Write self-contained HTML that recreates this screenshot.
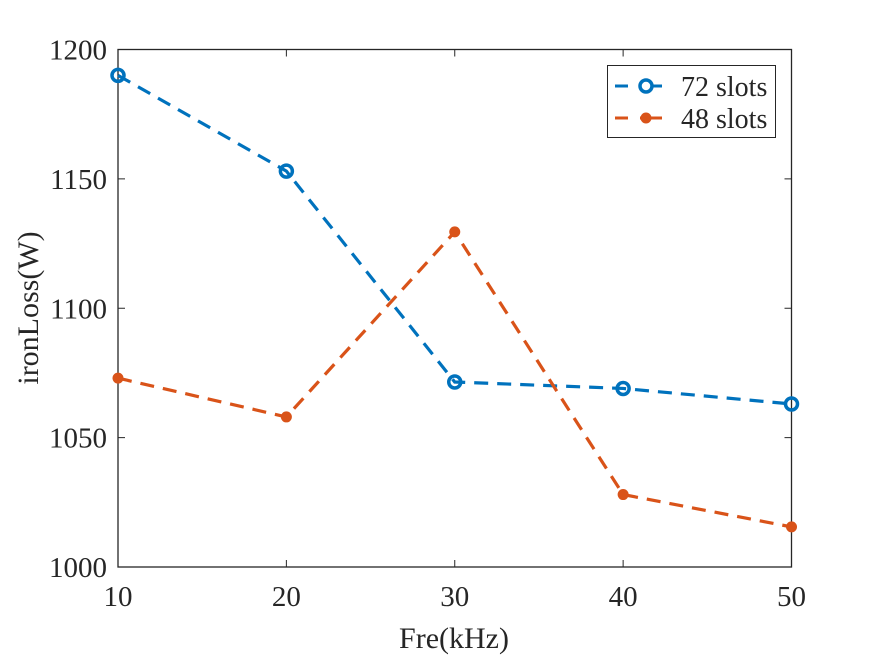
<!DOCTYPE html>
<html><head><meta charset="utf-8"><style>
body{margin:0;background:#fff}
svg text{font-family:"Liberation Serif",serif;fill:#262626}
</style></head><body>
<svg width="875" height="656">
<rect width="875" height="656" fill="#fff"/>
<g id="axes"></g>
<g id="series"></g>
<text x="454" y="648" font-size="30" text-anchor="middle">Fre(kHz)</text>
<text transform="translate(38,308) rotate(-90)" font-size="30" text-anchor="middle">ironLoss(W)</text>
<g>
<rect x="607.5" y="65.5" width="168" height="72" fill="#fff" stroke="#262626" stroke-width="1"/>
<g>
<line x1="615" y1="86" x2="628" y2="86" stroke="#0072BD" stroke-width="3"/>
<line x1="640" y1="86" x2="662" y2="86" stroke="#0072BD" stroke-width="3"/>
<circle cx="646" cy="86" r="6" fill="#fff" stroke="#0072BD" stroke-width="3.5"/>
<text x="681" y="96" font-size="28">72 slots</text></g>
<g>
<line x1="615" y1="118" x2="628" y2="118" stroke="#D95319" stroke-width="3"/>
<line x1="640" y1="118" x2="662" y2="118" stroke="#D95319" stroke-width="3"/>
<circle cx="646" cy="118" r="5.5" fill="#D95319"/>
<text x="681" y="128" font-size="28">48 slots</text></g>
</g>
</svg>
<script>
const categories=[10,20,30,40,50];
const slots72=[1190,1153,1071.5,1069,1063];
const slots48=[1073,1058,1129.5,1028,1015.5];
const yTicks=[1000,1050,1100,1150,1200];
const xTicks=[10,20,30,40,50];
const L=118,R=791.5,T=49.5,B=567;
const xs=v=>L+(v-10)/40*(R-L);
const ys=v=>B-(v-1000)/200*(B-T);
const NS="http://www.w3.org/2000/svg";
const ax=document.getElementById('axes');
function mk(t,a,p){const e=document.createElementNS(NS,t);for(const k in a)e.setAttribute(k,a[k]);p.appendChild(e);return e;}
const box=mk('rect',{x:L,y:T,width:R-L,height:B-T,fill:'none',stroke:'#262626','stroke-width':1.3},ax);


yTicks.forEach(v=>{const y=ys(v);
mk('line',{x1:L,x2:L+7,y1:y,y2:y,stroke:'#262626'},ax);
mk('line',{x1:R,x2:R-7,y1:y,y2:y,stroke:'#262626'},ax);
const t=mk('text',{x:L-11,y:y+10,'font-size':29,'text-anchor':'end'},ax);t.textContent=v;

});
xTicks.forEach(v=>{const x=xs(v);
mk('line',{x1:x,x2:x,y1:B,y2:B-7,stroke:'#262626'},ax);
mk('line',{x1:x,x2:x,y1:T,y2:T+7,stroke:'#262626'},ax);
const t=mk('text',{x:x,y:B+39,'font-size':29,'text-anchor':'middle'},ax);t.textContent=v;

});
const sg=document.getElementById('series');
function draw(vals,color,filled,name){
const g=mk('g',{},sg);


const pts=vals.map((v,i)=>xs(categories[i])+','+ys(v)).join(' ');
mk('polyline',{points:pts,fill:'none',stroke:color,'stroke-width':3.2,'stroke-dasharray':'14,9'},g);
vals.forEach((v,i)=>{const c=filled?mk('circle',{cx:xs(categories[i]),cy:ys(v),r:5.5,fill:color},g):
mk('circle',{cx:xs(categories[i]),cy:ys(v),r:6,fill:'none',stroke:color,'stroke-width':3.5},g);

});}
draw(slots72,'#0072BD',false,'series-72-slots');
draw(slots48,'#D95319',true,'series-48-slots');
</script>
</body></html>
